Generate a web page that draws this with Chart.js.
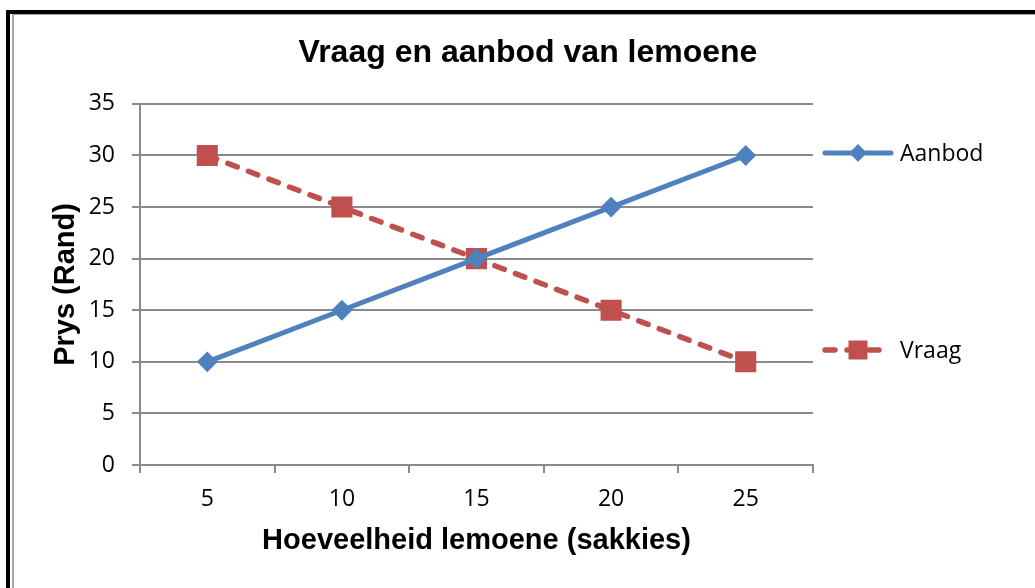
<!DOCTYPE html>
<html>
<head>
<meta charset="utf-8">
<script src="https://cdn.jsdelivr.net/npm/chart.js@4"></script>
<style>
  body { margin: 0; background: #fff; }
  #wrap { position: relative; width: 1035px; height: 588px; overflow: hidden; }
  .frame { position: absolute; }
  canvas { position: absolute; left: 0; top: 0; }
</style>
</head>
<body>
<div id="wrap">
  <div class="frame" style="left:6px;top:10px;width:4px;height:600px;background:#000"></div>
  <div class="frame" style="left:6px;top:10px;width:1040px;height:4px;background:#000"></div>
  <div class="frame" style="left:12px;top:14px;width:2px;height:600px;background:#a6a6a6"></div>
  <div class="frame" style="left:12px;top:14px;width:1040px;height:1px;background:#a6a6a6"></div>
  <canvas id="myChart" width="1035" height="588"></canvas>
</div>
<script>
const quantities = ["5", "10", "15", "20", "25"];
const aanbod = [10, 15, 20, 25, 30];
const vraag = [30, 25, 20, 15, 10];
const seriesNames = ["Aanbod", "Vraag"];
const yTicks = { min: 0, max: 35, step: 5 };

const blue = "#4F81BD";
const red = "#C0504D";
const gridGray = "#8a8a8a";

// legend drawn at the right side like the Excel original (line + marker)
const sideLegend = {
  id: "sideLegend",
  afterDraw(chart) {
    const ctx = chart.ctx;
    const area = chart.chartArea;
    const x0 = area.right + 10;
    const rows = [area.top + 49, area.top + 246];
    const sizes = [7.5, 12];
    chart.data.datasets.forEach((ds, i) => {
      const y = rows[i];
      ctx.save();
      ctx.strokeStyle = ds.borderColor;
      ctx.lineWidth = ds.borderWidth;
      ctx.lineCap = "round";
      ctx.setLineDash(ds.borderDash || []);
      ctx.beginPath();
      ctx.moveTo(x0 + 2, y);
      ctx.lineTo(x0 + (ds.borderDash ? 64 : 68), y);
      ctx.stroke();
      ctx.setLineDash([]);
      ctx.fillStyle = ds.pointBackgroundColor;
      ctx.strokeStyle = ds.pointBorderColor;
      ctx.lineWidth = ds.pointBorderWidth;
      Chart.helpers.drawPoint(ctx, { pointStyle: ds.pointStyle, radius: sizes[i], rotation: 0, borderWidth: ds.pointBorderWidth }, x0 + 35, y);
      ctx.fillStyle = "#000";
      ctx.font = "23px 'Open Sans'";
      ctx.textAlign = "left";
      ctx.textBaseline = "middle";
      ctx.fillText(ds.label, x0 + 77, y + 1.5);
      ctx.restore();
    });
  },
};

const ctx = document.getElementById("myChart");
const myChart = new Chart(ctx, {
  type: "line",
  data: {
    labels: quantities,
    datasets: [
      {
        label: seriesNames[0],
        data: aanbod,
        borderColor: blue,
        borderWidth: 5,
        borderJoinStyle: "round",
        pointStyle: "rectRot",
        pointRadius: 9,
        pointBackgroundColor: blue,
        pointBorderColor: blue,
        pointBorderWidth: 2,
      },
      {
        label: seriesNames[1],
        data: vraag,
        borderColor: red,
        borderWidth: 5.5,
        borderDash: [10, 12],
        borderCapStyle: "round",
        pointStyle: "rect",
        pointRadius: 13.5,
        pointBackgroundColor: red,
        pointBorderColor: red,
        pointBorderWidth: 2,
      },
    ],
  },
  options: {
    responsive: false,
    animation: false,
    layout: { padding: { left: 21, right: 0, top: 0, bottom: 0 } },
    plugins: {
      legend: { display: false },
      tooltip: { enabled: false },
      title: {
        display: true,
        text: "Vraag en aanbod van lemoene",
        color: "#000",
        font: { family: "'Liberation Sans', Arial", size: 32, weight: "bold" },
        padding: { top: 34, bottom: 31.5 },
      },
    },
    scales: {
      x: {
        offset: true,
        grid: { offset: true, drawOnChartArea: false, drawTicks: true, tickLength: 8, color: gridGray, lineWidth: 2 },
        border: { display: true, color: gridGray, width: 2 },
        ticks: { color: "#000", padding: 13, font: { family: "'Open Sans'", size: 23 } },
        title: {
          display: true,
          text: "Hoeveelheid lemoene (sakkies)",
          color: "#000",
          font: { family: "'Liberation Sans', Arial", size: 29, weight: "bold" },
          padding: { top: 0, bottom: 30 },
        },
        afterFit(scale) {
          scale.height = 123;
        },
      },
      y: {
        min: yTicks.min,
        max: yTicks.max,
        grid: { color: gridGray, lineWidth: 2, tickLength: 8 },
        border: { display: true, color: gridGray, width: 2 },
        ticks: { stepSize: yTicks.step, color: "#000", padding: 17, font: { family: "'Open Sans'", size: 23 } },
        title: {
          display: true,
          text: "Prys (Rand)",
          color: "#000",
          font: { family: "'Liberation Sans', Arial", size: 29, weight: "bold" },
          padding: { top: 28, bottom: 0 },
        },
        afterFit(scale) {
          scale.width = 119;
        },
      },
      legendSpace: {
        type: "linear",
        position: "right",
        display: true,
        grid: { display: false },
        border: { display: false },
        ticks: { display: false },
        afterFit(scale) {
          scale.width = 222;
        },
      },
    },
  },
  plugins: [sideLegend],
});
</script>
</body>
</html>
